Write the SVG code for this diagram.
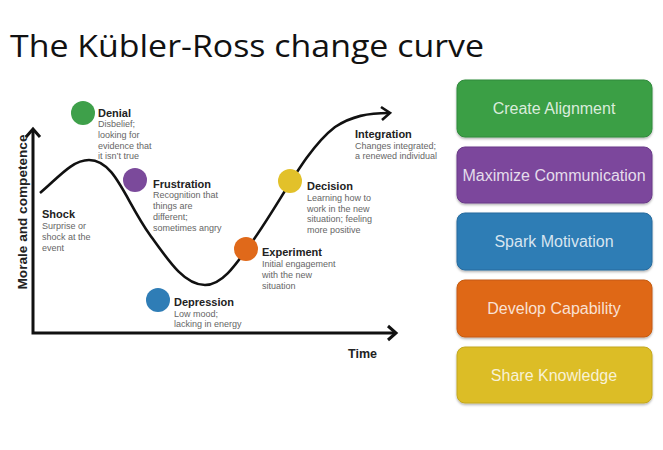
<svg xmlns="http://www.w3.org/2000/svg" width="663" height="450" viewBox="0 0 663 450">
<defs>
<style>
.lbl{font-family:"Liberation Sans",Arial,sans-serif;font-weight:bold;font-size:11px;fill:#222}
.desc{font-family:"Liberation Sans",Arial,sans-serif;font-size:9px;fill:#666}
.btxt{font-family:"Liberation Sans",Arial,sans-serif;font-size:16px;fill:#fff;fill-opacity:0.82;text-anchor:middle}
.box{stroke-width:1}
.axis{fill:none;stroke:#111;stroke-width:3}
</style>
<filter id="sh" x="-5%" y="-10%" width="110%" height="130%">
<feDropShadow dx="0" dy="1.5" stdDeviation="1.2" flood-color="#000" flood-opacity="0.3"/>
</filter>
</defs>
<rect width="663" height="450" fill="#fff"/>
<text x="10" y="57" font-family="'Open Sans',Calibri,sans-serif" font-size="31" fill="#111" textLength="474" lengthAdjust="spacingAndGlyphs">The Kübler-Ross change curve</text>

<g id="connectors">
<path class="axis" d="M33,129 L33,333 L396,333"/>
<path class="axis" d="M26,137 L33,129 L40,137"/>
<path class="axis" d="M388,326 L396,333 L388,340"/>
<path d="M40,193 C58,178 72,160 89,160 C115,160 125,200 150,235 C170,263 185,285 205,285 C222,285 235,266 252,242 C282,200 305,150 335,127 C352,116 368,113 389,113" fill="none" stroke="#111" stroke-width="2.6"/>
<path d="M381,107 L390,113 L382,120" fill="none" stroke="#111" stroke-width="2.6"/>
</g>

<text transform="translate(27,212) rotate(-90)" text-anchor="middle" font-family="'Liberation Sans',Arial,sans-serif" font-weight="bold" font-size="13" fill="#222" textLength="155" lengthAdjust="spacingAndGlyphs">Morale and competence</text>
<text x="348" y="358" font-family="'Liberation Sans',Arial,sans-serif" font-weight="bold" font-size="12.5" fill="#222">Time</text>

<g id="shock">
<text class="lbl" x="42" y="218">Shock</text>
<text class="desc" x="42" y="229">Surprise or</text>
<text class="desc" x="42" y="240">shock at the</text>
<text class="desc" x="42" y="251">event</text>
</g>
<g id="denial">
<circle cx="83" cy="113" r="12" fill="#3ea04a"/>
<text class="lbl" x="98" y="117">Denial</text>
<text class="desc" x="98" y="127">Disbelief;</text>
<text class="desc" x="98" y="138">looking for</text>
<text class="desc" x="98" y="149">evidence that</text>
<text class="desc" x="98" y="159">it isn’t true</text>
</g>
<g id="frustration">
<circle cx="135" cy="180" r="12" fill="#7b4a9b"/>
<text class="lbl" x="153" y="188">Frustration</text>
<text class="desc" x="153" y="198">Recognition that</text>
<text class="desc" x="153" y="209">things are</text>
<text class="desc" x="153" y="220">different;</text>
<text class="desc" x="153" y="231">sometimes angry</text>
</g>
<g id="depression">
<circle cx="158" cy="300" r="12" fill="#2f7db6"/>
<text class="lbl" x="174" y="306">Depression</text>
<text class="desc" x="174" y="317">Low mood;</text>
<text class="desc" x="174" y="327">lacking in energy</text>
</g>
<g id="experiment">
<circle cx="246" cy="249" r="12" fill="#e0691a"/>
<text class="lbl" x="262" y="256">Experiment</text>
<text class="desc" x="262" y="267">Initial engagement</text>
<text class="desc" x="262" y="278">with the new</text>
<text class="desc" x="262" y="289">situation</text>
</g>
<g id="decision">
<circle cx="290" cy="181" r="12" fill="#e2c12a"/>
<text class="lbl" x="307" y="190">Decision</text>
<text class="desc" x="307" y="201">Learning how to</text>
<text class="desc" x="307" y="212">work in the new</text>
<text class="desc" x="307" y="222">situation; feeling</text>
<text class="desc" x="307" y="233">more positive</text>
</g>
<g id="integration">
<text class="lbl" x="355" y="138">Integration</text>
<text class="desc" x="355" y="149">Changes integrated;</text>
<text class="desc" x="355" y="159">a renewed individual</text>
</g>

<g id="create-alignment">
<rect class="box" x="457" y="80" width="195" height="57" rx="8" fill="#3a9f45" stroke="#2f8a3a" filter="url(#sh)"/>
<text class="btxt" x="554" y="114">Create Alignment</text>
</g>
<g id="maximize-communication">
<rect class="box" x="457" y="147" width="195" height="56" rx="8" fill="#7b479c" stroke="#6a3a88" filter="url(#sh)"/>
<text class="btxt" x="554" y="181">Maximize Communication</text>
</g>
<g id="spark-motivation">
<rect class="box" x="457" y="213" width="195" height="57" rx="8" fill="#2e7db5" stroke="#266b9d" filter="url(#sh)"/>
<text class="btxt" x="554" y="247">Spark Motivation</text>
</g>
<g id="develop-capability">
<rect class="box" x="457" y="280" width="195" height="57" rx="8" fill="#df6814" stroke="#c55a10" filter="url(#sh)"/>
<text class="btxt" x="554" y="314">Develop Capability</text>
</g>
<g id="share-knowledge">
<rect class="box" x="457" y="347" width="195" height="56" rx="8" fill="#dcbd27" stroke="#c4a81f" filter="url(#sh)"/>
<text class="btxt" x="554" y="381">Share Knowledge</text>
</g>
</svg>
